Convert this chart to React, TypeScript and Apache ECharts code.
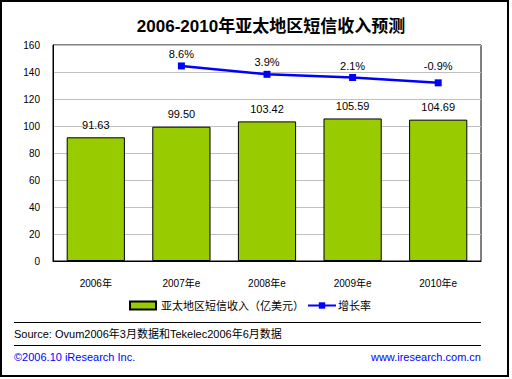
import React, { useEffect, useRef } from "react";
import * as echarts from "echarts";

const categories = ["2006年", "2007年e", "2008年e", "2009年e", "2010年e"];
const revenue = [91.63, 99.5, 103.42, 105.59, 104.69];
const growth: (number | null)[] = [null, 8.6, 3.9, 2.1, -0.9];
const yTicks = { min: 0, max: 160, interval: 20 };
const titleText = "2006-2010年亚太地区短信收入预测";
const barName = "亚太地区短信收入（亿美元）";
const lineName = "增长率";
const sourceText = "Source: Ovum2006年3月数据和Tekelec2006年6月数据";
const copyrightText = "©2006.10 iResearch Inc.";
const siteText = "www.iresearch.com.cn";

const FONT = "Liberation Sans, Arial, Noto Sans CJK SC, sans-serif";

export default function App() {
  const ref = useRef<HTMLDivElement>(null);
  useEffect(() => {
    if (!ref.current) return;
    const chart = echarts.init(ref.current, null, { renderer: "svg" });
    const legendText = { fontSize: 11, color: "#000", fontFamily: FONT };
    chart.setOption({
      animation: false,
      backgroundColor: "#ffffff",
      textStyle: { fontFamily: FONT },
      title: {
        text: titleText,
        left: 266,
        textAlign: "center",
        top: 13,
        textStyle: { fontSize: 17, fontWeight: "bold", color: "#000", fontFamily: FONT },
      },
      legend: [
        {
          left: 129,
          top: 300,
          padding: 0,
          itemWidth: 26,
          itemHeight: 8,
          textStyle: legendText,
          data: [{ name: barName, icon: "rect" }],
        },
        {
          left: 307,
          top: 300,
          padding: 0,
          itemWidth: 28,
          itemHeight: 8,
          itemGap: 0,
          textStyle: { ...legendText, padding: [0, 0, 0, -3] },
          data: [{ name: lineName }],
        },
      ],
      grid: {
        left: 53,
        right: 31,
        top: 45,
        bottom: 118,
        show: true,
        borderColor: "#000",
        borderWidth: 1,
        backgroundColor: "transparent",
      },
      xAxis: {
        type: "category",
        data: categories,
        axisLine: { lineStyle: { color: "#000" } },
        axisTick: { show: false },
        axisLabel: { margin: 17, fontSize: 10, color: "#000", fontFamily: FONT },
      },
      yAxis: [
        {
          type: "value",
          min: yTicks.min,
          max: yTicks.max,
          interval: yTicks.interval,
          axisLine: { show: true, lineStyle: { color: "#000" } },
          axisTick: { show: false },
          axisLabel: { margin: 13, fontSize: 10, color: "#000", fontFamily: FONT },
          splitLine: { lineStyle: { color: "#c0c0c0", width: 1 } },
        },
        {
          type: "value",
          min: -101.2,
          max: 20.4,
          show: false,
          splitLine: { show: false },
        },
      ],
      series: [
        {
          name: barName,
          type: "bar",
          data: revenue,
          barWidth: "68%",
          itemStyle: { color: "#99cc00", borderColor: "#000", borderWidth: 1 },
          label: {
            show: true,
            position: "top",
            distance: 7,
            fontSize: 11,
            color: "#000",
            fontFamily: FONT,
            formatter: (p: any) => Number(p.value).toFixed(2),
          },
        },
        {
          name: lineName,
          type: "line",
          yAxisIndex: 1,
          data: growth.map((v, i) =>
            i === 4 ? { value: v, label: { distance: 8 } } : v
          ),
          symbol: "rect",
          symbolSize: 7,
          lineStyle: { color: "#0000ff", width: 2.5 },
          itemStyle: { color: "#0000ff" },
          label: {
            show: true,
            position: "top",
            distance: 3,
            fontSize: 11,
            color: "#000",
            fontFamily: FONT,
            formatter: (p: any) => `${p.value}%`,
          },
        },
      ],
      graphic: [
        {
          type: "rect",
          shape: { x: 1, y: 1, width: 507, height: 375 },
          style: { fill: "none", stroke: "#000", lineWidth: 2 },
          silent: true,
        },
        {
          type: "line",
          shape: { x1: 14, y1: 322.5, x2: 481, y2: 322.5 },
          style: { stroke: "#000", lineWidth: 1 },
        },
        {
          type: "line",
          shape: { x1: 14, y1: 345.5, x2: 481, y2: 345.5 },
          style: { stroke: "#000", lineWidth: 1 },
        },
        {
          type: "text",
          x: 14,
          y: 334,
          style: {
            text: sourceText,
            fill: "#000",
            fontSize: 11,
            fontFamily: FONT,
            textVerticalAlign: "middle",
          },
        },
        {
          type: "text",
          x: 14,
          y: 357,
          style: {
            text: copyrightText,
            fill: "#0000ff",
            fontSize: 11,
            fontFamily: FONT,
            textVerticalAlign: "middle",
          },
        },
        {
          type: "text",
          x: 481,
          y: 357,
          style: {
            text: siteText,
            fill: "#0000ff",
            fontSize: 11,
            fontFamily: FONT,
            textAlign: "right",
            textVerticalAlign: "middle",
          },
        },
      ],
    });
    return () => chart.dispose();
  }, []);
  return (
    <div
      ref={ref}
      style={{ position: "fixed", left: 0, top: 0, width: 512, height: 379 }}
    />
  );
}
